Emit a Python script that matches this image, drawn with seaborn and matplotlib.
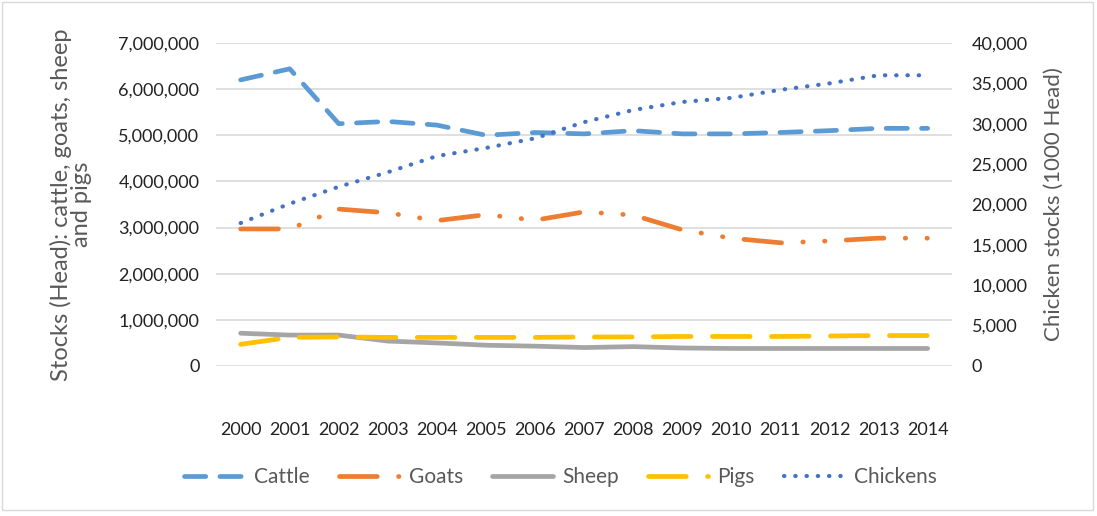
import matplotlib
matplotlib.use("Agg")
import matplotlib.pyplot as plt
import matplotlib.ticker as mticker
import matplotlib.patches as mpatches
import seaborn as sns
import pandas as pd

# データ
years = list(range(2000, 2015))
cattle = [6200000, 6440000, 5250000, 5300000, 5220000, 5000000, 5060000, 5030000,
          5100000, 5030000, 5030000, 5060000, 5100000, 5150000, 5150000]
goats = [2970000, 2970000, 3400000, 3320000, 3150000, 3280000, 3160000, 3340000,
         3270000, 2950000, 2770000, 2670000, 2710000, 2770000, 2770000]
sheep = [710000, 670000, 670000, 540000, 500000, 450000, 430000, 400000,
         420000, 390000, 380000, 380000, 380000, 380000, 380000]
pigs = [470000, 620000, 630000, 620000, 620000, 620000, 620000, 630000,
        630000, 640000, 640000, 640000, 650000, 660000, 660000]
chickens = [17700, 20100, 22200, 24000, 26000, 27000, 28200, 30200,
            31700, 32700, 33200, 34200, 35000, 36000, 36000]

df = pd.DataFrame({"year": years, "Cattle": cattle, "Goats": goats,
                   "Sheep": sheep, "Pigs": pigs, "Chickens": chickens})
df["pos"] = range(len(df))

# スタイル
sns.set_style("white")
plt.rcParams["font.family"] = ["Lato", "DejaVu Sans"]
plt.rcParams["font.size"] = 13
txt = "#595959"
tick_col = "#222222"

fig = plt.figure(figsize=(10.97, 5.16), dpi=100)
ax = fig.add_axes([0.197, 0.2907, 0.671, 0.626])
ax2 = ax.twinx()

styles = {
    "Cattle": dict(color="#5B9BD5", lw=3.4, ls=(0, (4.5, 3))),
    "Goats": dict(color="#ED7D31", lw=3.4, ls=(0, (8, 4.5, 0.1, 4.5, 0.1, 4.5))),
    "Sheep": dict(color="#A5A5A5", lw=3.4, ls="-"),
    "Pigs": dict(color="#FFC000", lw=3.4, ls=(0, (8, 4.5))),
}
for name, st in styles.items():
    sns.lineplot(data=df, x="pos", y=name, ax=ax, color=st["color"], linewidth=st["lw"],
                 linestyle=st["ls"], dash_capstyle="round", solid_capstyle="round",
                 label=name, legend=False)
sns.lineplot(data=df, x="pos", y="Chickens", ax=ax2, color="#4472C4", linewidth=3.0,
             linestyle=(0, (0.1, 2.6)), dash_capstyle="round", label="Chickens", legend=False)

# 軸
ax.set_xlim(-0.5, len(years) - 0.5)
ax.set_ylim(0, 7000000)
ax2.set_ylim(0, 40000)
ax.yaxis.set_major_locator(mticker.MultipleLocator(1000000))
ax2.yaxis.set_major_locator(mticker.MultipleLocator(5000))
fmt = mticker.FuncFormatter(lambda v, p: f"{int(v):,}")
ax.yaxis.set_major_formatter(fmt)
ax2.yaxis.set_major_formatter(fmt)
ax.set_xticks(df["pos"])
ax.set_xticklabels([str(y) for y in years])
ax.grid(axis="y", color="#D9D9D9", lw=1.2)
ax.set_axisbelow(True)
for a in (ax, ax2):
    for s in a.spines.values():
        s.set_visible(False)
    a.tick_params(length=0, colors=tick_col, labelsize=13)
ax.tick_params(axis="x", pad=40)
ax.tick_params(axis="y", pad=12)
ax2.tick_params(axis="y", pad=14)
ax.set_xlabel("")
ax.set_ylabel("Stocks (Head): cattle, goats, sheep\nand pigs", color=txt, fontsize=17, linespacing=0.95)
ax2.set_ylabel("Chicken stocks (1000 Head)", color=txt, fontsize=16)
ax.yaxis.set_label_coords(-0.168, 0.5)
ax2.yaxis.set_label_coords(1.125, 0.5)

# 凡例
handles = ax.get_lines()[:4] + ax2.get_lines()[:1]
leg = fig.legend(handles, [h.get_label() for h in handles], loc="center", ncol=5,
                 bbox_to_anchor=(0.511, 0.0756), frameon=False, handlelength=2.9,
                 columnspacing=1.4, handletextpad=0.45, fontsize=15)
for t in leg.get_texts():
    t.set_color(txt)

fig.patches.append(mpatches.Rectangle((0.002, 0.012), 0.994, 0.984, transform=fig.transFigure,
                                      fill=False, edgecolor="#D9D9D9", lw=1))

plt.savefig("out.png", dpi=100)
plt.close()
